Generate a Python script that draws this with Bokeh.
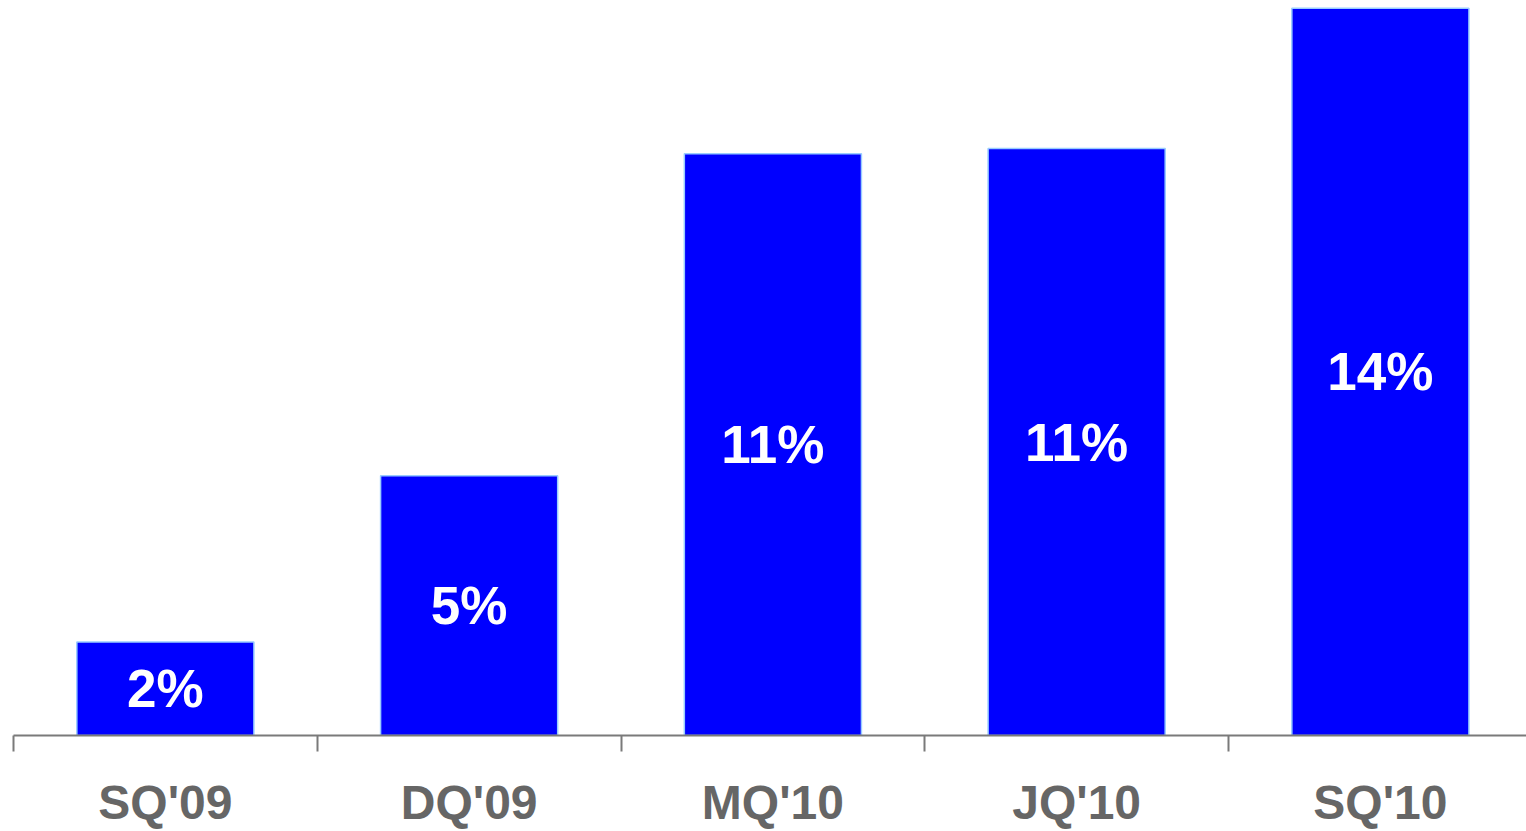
from bokeh.plotting import figure
from bokeh.models import ColumnDataSource, Range1d, FixedTicker, LinearAxis
from bokeh.core.properties import value
from bokeh.embed import file_html
from bokeh.resources import INLINE

# Quarterly share values (percent)
quarters = ["SQ'09", "DQ'09", "MQ'10", "JQ'10", "SQ'10"]
shares = [1.8, 5.0, 11.2, 11.3, 14.0]

xpos = [i + 0.5 for i in range(len(quarters))]
labels = [f"{v:.0f}%" for v in shares]
mids = [v / 2 for v in shares]

src = ColumnDataSource(dict(x=xpos, top=shares, mid=mids, label=labels))

p = figure(width=1526, height=831, output_backend="svg", toolbar_location=None,
           x_range=Range1d(0, 4.981), y_range=Range1d(0, 14.15),
           x_axis_location=None, y_axis_location=None,
           min_border_left=13, min_border_right=0, min_border_top=0, min_border_bottom=96)
p.outline_line_color = None
p.xgrid.visible = False
p.ygrid.visible = False
p.background_fill_color = "white"
p.border_fill_color = "white"

p.vbar(x="x", top="top", bottom=0, width=0.583, source=src,
       fill_color="#0000ff", line_color="#99ccff", line_width=1.5)

p.text(x="x", y="mid", text="label", source=src,
       text_font=value("Liberation Sans"), text_font_style="bold",
       text_font_size="53px", text_color="white",
       text_align="center", text_baseline="middle")

axis = LinearAxis(ticker=FixedTicker(ticks=xpos, minor_ticks=list(range(len(quarters) + 1))))
axis.major_label_overrides = {x: q for x, q in zip(xpos, quarters)}
axis.major_tick_out = 0
axis.major_tick_in = 0
axis.minor_tick_out = 16
axis.minor_tick_in = 0
axis.minor_tick_line_color = "#7a7a7a"
axis.minor_tick_line_width = 2
axis.axis_line_color = "#7a7a7a"
axis.axis_line_width = 2
axis.major_label_standoff = 24
axis.major_label_text_font = "Liberation Sans"
axis.major_label_text_font_style = "bold"
axis.major_label_text_font_size = "48px"
axis.major_label_text_color = "#666666"
p.add_layout(axis, "below")

open("out.html", "w").write(file_html(p, INLINE))
